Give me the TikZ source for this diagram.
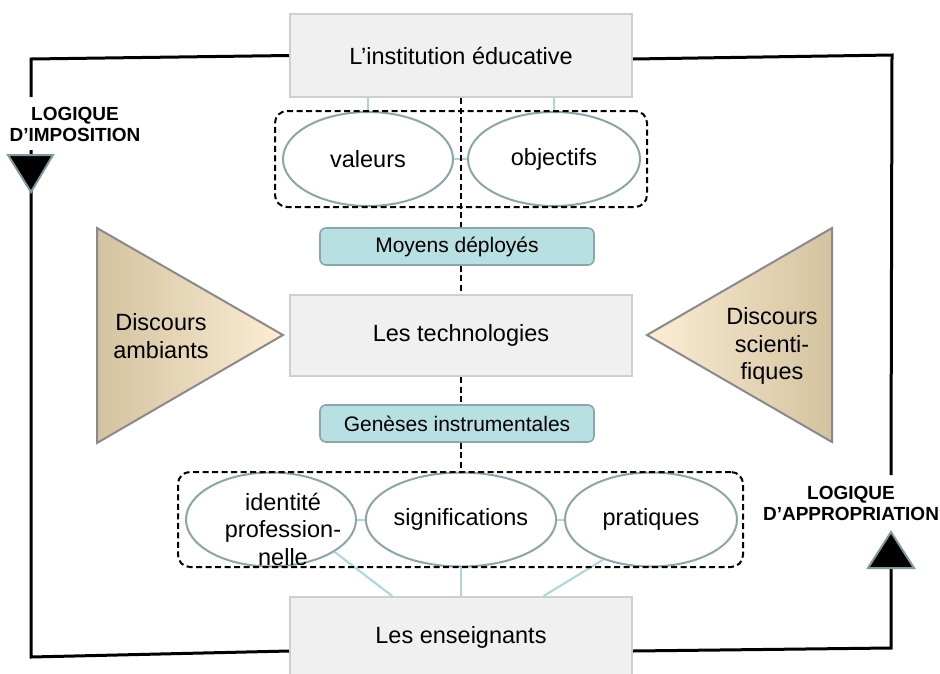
\documentclass[tikz,border=0pt]{standalone}
\usepackage{fontspec}
\setmainfont{Liberation Sans}
\usetikzlibrary{shapes.geometric,calc}
\definecolor{boxfill}{HTML}{F0F0F0}
\definecolor{boxline}{HTML}{CFCFCF}
\definecolor{tealfill}{HTML}{B8DFE2}
\definecolor{tealline}{HTML}{8AA8AA}
\definecolor{ellline}{HTML}{8AA6A9}
\definecolor{linkteal}{HTML}{A8D8DC}
\definecolor{tanc}{HTML}{D3C39F}
\definecolor{midc}{HTML}{F1E6CD}
\definecolor{creamc}{HTML}{FCEDD5}
\definecolor{triline}{HTML}{8A8A8A}
\definecolor{arrline}{HTML}{7F9A9D}
\begin{document}
\begin{tikzpicture}[x=1pt,y=-1pt,
  mainbox/.style={draw=boxline, fill=boxfill, line width=2pt, minimum width=342pt, minimum height=83pt, inner sep=0pt, font=\fontsize{23.5}{27}\selectfont},
  smallbox/.style={draw=tealline, fill=tealfill, line width=1.6pt, rounded corners=6pt, minimum width=274pt, minimum height=37pt, inner sep=0pt, font=\fontsize{21}{24}\selectfont},
  oval/.style={ellipse, draw=ellline, fill=white, line width=2pt, minimum height=94pt, inner sep=0pt, font=\fontsize{23.5}{27}\selectfont},
  grp/.style={draw=black, line width=2pt, dash pattern=on 6pt off 3.5pt, rounded corners=12pt, inner sep=0pt},
  dashline/.style={draw=black, line width=2.2pt, dash pattern=on 6pt off 3.5pt},
  link/.style={draw=linkteal, line width=2pt},
  loopline/.style={draw=black, line width=3pt},
  logic/.style={font=\fontsize{19}{21}\selectfont\bfseries, align=center, inner sep=0pt},
  txt/.style={font=\fontsize{23.5}{27.5}\selectfont, align=center, inner sep=0pt},
  disc/.style={draw=triline, line width=2pt},
  arrowtri/.style={draw=arrline, fill=black, line width=2pt, line join=miter}
]
\useasboundingbox (0,0) rectangle (940,673);
\clip (0,0) rectangle (940,673);

% outer loop
\coordinate (L1) at (31,59);
\coordinate (L2) at (31,97);
\coordinate (L3) at (31,150);
\coordinate (L4) at (31,657);
\coordinate (R1) at (892,55);
\coordinate (R2) at (891,475);
\coordinate (R3) at (891,565);
\coordinate (R4) at (891,648);

% main boxes
\node[mainbox] (inst) at (461,55.5) {L’institution éducative};
\node[mainbox, minimum height=81pt] (tech) at (461,335.5) {Les technologies};
\node[mainbox, minimum height=108pt] (ens) at (461,651) {};
\node[txt] (enslbl) at (461,637) {Les enseignants};

\draw[loopline] (inst.west) -- (L1) -- (L2);
\draw[loopline] (L3) -- (L4) -- (ens.west);
\draw[loopline] (inst.east |- 0,59) -- (R1) -- (R2);
\draw[loopline] (R3) -- (R4) -- (ens.east);

% arrow triangles
\draw[arrowtri] (8,155) -- (53,155) -- (31,192) -- cycle;
\draw[arrowtri] (891,532) -- (914,568) -- (868,568) -- cycle;

\node[logic] (imp) at (75,124) {LOGIQUE\\D’IMPOSITION};
\node[logic] (app) at (851,503) {LOGIQUE\\D’APPROPRIATION};

% discourse triangles
\path[disc, left color=tanc, middle color=midc, right color=creamc] (97,228) -- (97,443) -- (283,335) -- cycle;
\path[disc, left color=creamc, middle color=midc, right color=tanc] (832,228) -- (832,442) -- (647,335) -- cycle;
\node[txt] (amb) at (161,336) {Discours\\ambiants};
\node[txt] (sci) at (772,346) {Discours\\scienti-\\fiques};

% top group
\node[oval, minimum width=170pt] (val) at (368,159) {valeurs};
\node[oval, minimum width=172pt] (obj) at (554,159) {objectifs};
\draw[link] (val.north) -- (val.north |- inst.south);
\draw[link] (obj.north) -- (obj.north |- inst.south);
\draw[link] (val.east) -- (obj.west);
\node[grp, minimum width=372pt, minimum height=96pt] (grpA) at (461,159) {};

% small boxes
\node[smallbox] (moy) at (457,246.5) {Moyens déployés};
\node[smallbox] (gen) at (457,423.5) {Genèses instrumentales};

\draw[dashline] (inst.south) -- (inst.south |- moy.north);
\draw[dashline] (tech.north |- moy.south) -- (tech.north);
\draw[dashline] (tech.south) -- (tech.south |- gen.north);

% bottom group
\node[oval, minimum width=170pt] (idp) at (271,519.5) {};
\node[txt] (idplbl) at (283,529) {identité\\profession-\\nelle};
\node[oval, minimum width=176pt] (sig) at (461,519.5) {significations};
\node[oval, minimum width=172pt] (pra) at (651,519.5) {pratiques};
\draw[link] (idp.east) -- (sig.west);
\draw[link] (sig.east) -- (pra.west);
\draw[link] (idp.-27) -- ($(ens.north)!0.4!(ens.north west)$);
\draw[link] (sig.south) -- (ens.north);
\draw[link] (pra.-140) -- ($(ens.north)!0.48!(ens.north east)$);
\node[grp, minimum width=565pt, minimum height=95pt] (grpB) at (460.5,519.5) {};

\draw[dashline] (tech.south |- gen.south) -- (tech.south |- grpB.north);
\end{tikzpicture}
\end{document}
